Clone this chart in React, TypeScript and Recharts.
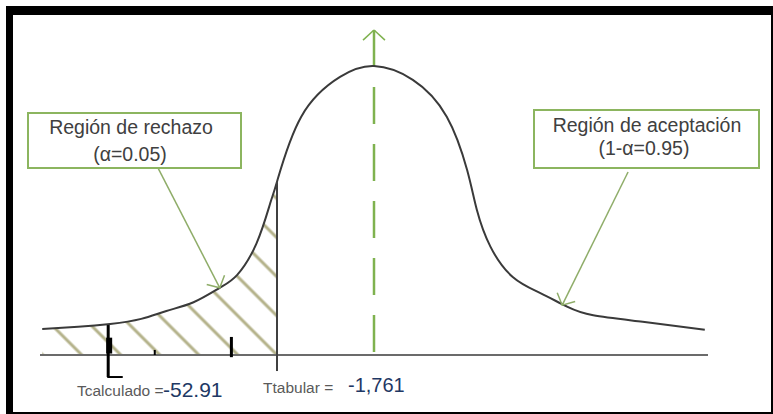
import { ComposedChart, Line, Area, XAxis, YAxis, ReferenceLine } from "recharts";

// t positions along the axis (centre = 0, critical value at -1)
const tValues = [-3.42, -3.05, -2.72, -2.4, -2.14, -1.86, -1.59, -1.41, -1.21, -1.07, -1.0, -0.75, -0.35, 0, 0.4, 0.75, 0.96, 1.06, 1.2, 1.43, 1.71, 1.99, 2.26, 2.77, 3.41];
// curve height
const density = [0.036, 0.039, 0.043, 0.05, 0.061, 0.073, 0.093, 0.111, 0.155, 0.21, 0.24, 0.33, 0.385, 0.4, 0.381, 0.33, 0.256, 0.201, 0.15, 0.108, 0.086, 0.067, 0.055, 0.046, 0.035];

const tCritical = -1.0;
const tCalc = -2.74;
const extraTicks = [-2.26, -1.47];

const labelCalc = "Tcalculado =";
const valueCalc = "-52.91";
const labelTab = "Ttabular =";
const valueTab = "-1,761";

const data = tValues.map((t, i) => ({
  t,
  y: density[i],
  rej: t <= tCritical ? density[i] : null,
}));

const FONT = "'Liberation Sans', Arial, sans-serif";
const GREEN = "#7fb24f";
const ARROW = "#8fad69";
const BOX = "#8cb55f";

export default function App() {
  return (
    <div style={{ position: "absolute", left: 0, top: 0, width: 773, height: 414, background: "#fff" }}>
      <ComposedChart
        width={773}
        height={414}
        data={data}
        margin={{ top: 30, right: 65, bottom: 59, left: 40 }}
        style={{ position: "absolute", left: 0, top: 0 }}
      >
        <defs>
          <pattern id="hatch" patternUnits="userSpaceOnUse" width="10" height="27.6" patternTransform="translate(277,355) rotate(45)">
            <line x1="0" y1="0" x2="10" y2="0" stroke="#b4b28a" strokeWidth="3" />
            <line x1="0" y1="27.6" x2="10" y2="27.6" stroke="#b4b28a" strokeWidth="3" />
          </pattern>
          <marker id="arrowHead" markerUnits="userSpaceOnUse" markerWidth="12" markerHeight="22" refX="10" refY="11" orient="auto" viewBox="0 0 12 22">
            <path d="M1,1 L10,11 L1,21" fill="none" stroke={ARROW} strokeWidth="1.5" />
          </marker>
        </defs>
        <XAxis type="number" dataKey="t" domain={[-3.443, 3.443]} hide allowDataOverflow />
        <YAxis type="number" domain={[0, 0.45]} hide allowDataOverflow />

        <Area
          type="natural"
          dataKey="rej"
          stroke="none"
          fill="url(#hatch)"
          fillOpacity={1}
          isAnimationActive={false}
          dot={false}
          activeDot={false}
        />
        <ReferenceLine y={0} stroke="#6b6b6b" strokeWidth={2} />

        {/* centre line with arrow */}
        <ReferenceLine
          segment={[{ x: 0, y: 0.45 }, { x: 0, y: 0.004 }]}
          stroke={GREEN}
          strokeWidth={2.5}
          strokeDasharray="37 20"
          ifOverflow="visible"
        />
        <ReferenceLine segment={[{ x: 0, y: 0.45 }, { x: -0.113, y: 0.436 }]} stroke={GREEN} strokeWidth={1.5} ifOverflow="visible" />
        <ReferenceLine segment={[{ x: 0, y: 0.45 }, { x: 0.113, y: 0.436 }]} stroke={GREEN} strokeWidth={1.5} ifOverflow="visible" />

        <Line
          type="natural"
          dataKey="y"
          stroke="#3a3a3a"
          strokeWidth={2}
          dot={false}
          activeDot={false}
          isAnimationActive={false}
        />

        {/* critical value */}
        <ReferenceLine segment={[{ x: tCritical, y: 0.2395 }, { x: tCritical, y: -0.0222 }]} stroke="#404040" strokeWidth={2} ifOverflow="visible" />

        {/* calculated value marks */}
        <ReferenceLine segment={[{ x: tCalc, y: 0.0415 }, { x: tCalc, y: -0.0305 }]} stroke="#000" strokeWidth={3} ifOverflow="visible" />
        <ReferenceLine segment={[{ x: tCalc + 0.01, y: 0.024 }, { x: tCalc + 0.01, y: 0.002 }]} stroke="#000" strokeWidth={6} ifOverflow="visible" />
        <ReferenceLine segment={[{ x: tCalc - 0.01, y: -0.0305 }, { x: tCalc + 0.15, y: -0.0305 }]} stroke="#000" strokeWidth={2} ifOverflow="visible" />
        <ReferenceLine segment={[{ x: extraTicks[0], y: 0.007 }, { x: extraTicks[0], y: 0 }]} stroke="#000" strokeWidth={2} ifOverflow="visible" />
        <ReferenceLine segment={[{ x: extraTicks[1], y: 0.025 }, { x: extraTicks[1], y: -0.003 }]} stroke="#000" strokeWidth={3} ifOverflow="visible" />

        {/* annotation arrows */}
        <ReferenceLine segment={[{ x: -2.227, y: 0.259 }, { x: -1.59, y: 0.093 }]} stroke={ARROW} strokeWidth={1.5} markerEnd="url(#arrowHead)" ifOverflow="visible" />
        <ReferenceLine segment={[{ x: 2.619, y: 0.2534 }, { x: 1.94, y: 0.069 }]} stroke={ARROW} strokeWidth={1.5} markerEnd="url(#arrowHead)" ifOverflow="visible" />
      </ComposedChart>

      <svg width={773} height={414} style={{ position: "absolute", left: 0, top: 0, pointerEvents: "none" }} fontFamily={FONT}>
        {/* frame */}
        <rect x={6} y={6} width={767} height={9} fill="#000" />
        <rect x={6} y={6} width={7} height={408} fill="#000" />
        <rect x={771} y={6} width={2} height={408} fill="#000" />
        <rect x={6} y={412} width={767} height={2} fill="#000" />

        <rect x={28} y={113} width={213} height={55} fill="#fff" stroke={BOX} strokeWidth={2} />
        <text x={131} y={134} textAnchor="middle" fontSize={19.5} fill="#404040">Región de rechazo</text>
        <text x={130} y={161} textAnchor="middle" fontSize={19.5} fill="#404040">(α=0.05)</text>

        <rect x={534} y={110} width={225} height={58} fill="#fff" stroke={BOX} strokeWidth={2} />
        <text x={647} y={132} textAnchor="middle" fontSize={19.5} fill="#404040">Región de aceptación</text>
        <text x={644} y={155} textAnchor="middle" fontSize={19.5} fill="#404040">(1-α=0.95)</text>

        <text x={77} y={396} fontSize={15.5} fill="#5a5a5a">{labelCalc}</text>
        <text x={163} y={397} fontSize={21} fill="#203864">{valueCalc}</text>
        <text x={263} y={393} fontSize={15.5} fill="#5a5a5a">{labelTab}</text>
        <text x={348} y={392} fontSize={20} fill="#1f3864">{valueTab}</text>
      </svg>
    </div>
  );
}
